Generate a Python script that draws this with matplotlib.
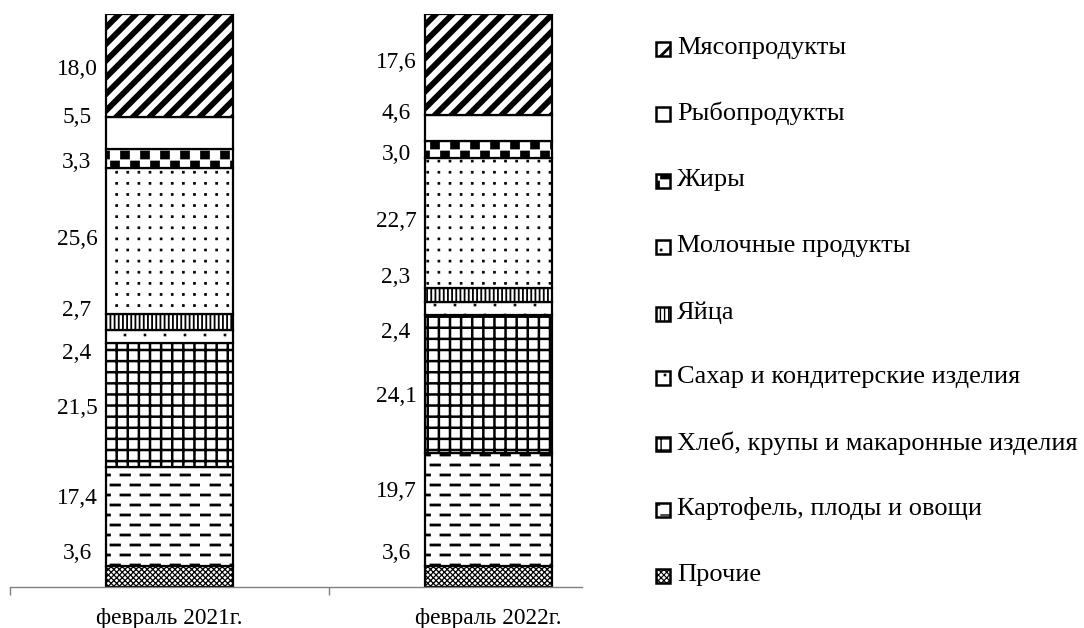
import numpy as np
import matplotlib
matplotlib.use("Agg")
import matplotlib.pyplot as plt
import matplotlib.hatch as mhatch
from matplotlib.path import Path
from matplotlib.patches import Rectangle
import warnings
warnings.filterwarnings("ignore")

# ---------------- data ----------------
periods = ["февраль 2021г.", "февраль 2022г."]
categories = ["Прочие", "Картофель, плоды и овощи", "Хлеб, крупы и макаронные изделия",
              "Сахар и кондитерские изделия", "Яйца", "Молочные продукты", "Жиры",
              "Рыбопродукты", "Мясопродукты"]
values_2021 = [3.6, 17.4, 21.5, 2.4, 2.7, 25.6, 3.3, 5.5, 18.0]
values_2022 = [3.6, 19.7, 24.1, 2.4, 2.3, 22.7, 3.0, 4.6, 17.6]
# label vertical positions (manual placement as in the source chart), data units
label_y_2021 = [5.9, 15.5, 31.2, 40.8, 48.2, 60.6, 74.0, 82.0, 90.4]
label_y_2022 = [5.9, 16.6, 33.2, 44.5, 54.1, 63.7, 75.4, 82.7, 91.6]

# ---------------- custom hatch patterns ----------------
MO, LI, CL = Path.MOVETO, Path.LINETO, Path.CLOSEPOLY


def _sq(x0, y0, x1, y1):
    return ([(x0, y0), (x1, y0), (x1, y1), (x0, y1), (x0, y0)], [MO, LI, LI, LI, CL])


def _ln(x0, y0, x1, y1):
    return ([(x0, y0), (x1, y1)], [MO, LI])


class _PolyHatch(mhatch.HatchPatternBase):
    char = "?"

    def __init__(self, hatch, density):
        self.polys = self.make() if (hatch and self.char in hatch) else []
        self.num_vertices = sum(len(v) for v, c in self.polys)

    def make(self):
        return []

    def set_vertices_and_codes(self, vertices, codes):
        i = 0
        for v, c in self.polys:
            n = len(v)
            vertices[i:i + n] = v
            codes[i:i + n] = c
            i += n


class CheckerHatch(_PolyHatch):
    char = "c"

    def make(self):
        out = []
        for r in range(10):
            off = 0.0 if r % 2 == 0 else 0.1
            for k in range(5):
                x0 = off + k * 0.2
                out.append(_sq(x0 + 0.005, r * 0.1 + 0.01, x0 + 0.095, r * 0.1 + 0.09))
        return out


class DenseDots(_PolyHatch):
    char = "d"

    def make(self):
        out = []
        n = 9
        s = 0.009
        for i in range(n):
            for j in range(n):
                cx, cy = (i + 0.5) / n, (j + 0.5) / n
                out.append(_sq(cx - s, cy - s, cx + s, cy + s))
        return out


class SparseDots(_PolyHatch):
    char = "s"

    def make(self):
        out = []
        s = 0.009
        for r in range(10):
            off = 0.05 if r % 2 == 0 else 0.15
            for k in range(5):
                cx, cy = off + k * 0.2, r * 0.1 + 0.05
                out.append(_sq(cx - s, cy - s, cx + s, cy + s))
        return out


class GridHatch(_PolyHatch):
    char = "g"

    def make(self):
        out = []
        n = 9
        for i in range(n):
            p = (i + 0.5) / n
            out.append(_ln(p, 0, p, 1))
            out.append(_ln(0, p, 1, p))
        return out


class DashHatch(_PolyHatch):
    char = "h"

    def make(self):
        out = []
        for r in range(10):
            y = r * 0.1 + 0.05
            off = 0.01 if r % 2 == 0 else 0.11
            for k in range(5):
                x0 = off + k * 0.2
                out.append(_ln(x0, y, x0 + 0.085, y))
        return out


mhatch._hatch_types.extend([CheckerHatch, DenseDots, SparseDots, GridHatch, DashHatch])

# pattern, hatch line width for each category
hatches = ["xxxxxx", "h", "g", "s", "||||", "d", "c", "", "//"]
hatch_lw = [0.9, 2.0, 1.8, 0.6, 1.3, 0.6, 0.5, 1.0, 4.2]
icon_lw = [0.8, 1.0, 1.0, 0.6, 1.0, 0.6, 0.5, 1.0, 2.0]

# ---------------- figure ----------------
plt.rcParams["font.family"] = ["Liberation Serif", "DejaVu Serif"]
plt.rcParams["hatch.color"] = "black"
FS = 16.8
FS_LEG = 19

W, H = 1084, 628
fig = plt.figure(figsize=(W / 100, H / 100), dpi=100)
ax = fig.add_axes([10 / W, (H - 587) / H, 638 / W, (587 - 14) / H])
ax.set_xlim(-0.5, 1.5)
ax.set_ylim(0, 100)

x = np.arange(len(periods))
bar_w = 0.40
data = [values_2021, values_2022]
bottoms = np.zeros(len(periods))
for ci, cat in enumerate(categories):
    vals = np.array([data[0][ci], data[1][ci]])
    with plt.rc_context({"hatch.linewidth": hatch_lw[ci]}):
        bars = ax.bar(x, vals, bar_w, bottom=bottoms, color="white",
                      edgecolor="black", linewidth=1.6, hatch=hatches[ci] or None,
                      label=cat, zorder=2)
    for p in bars:
        if hasattr(p, "set_hatch_linewidth"):
            p.set_hatch_linewidth(hatch_lw[ci])
    bottoms = bottoms + vals

# value labels
label_ys = [label_y_2021, label_y_2022]
for pi in range(len(periods)):
    for ci in range(len(categories)):
        v = data[pi][ci]
        ax.text(x[pi] - 0.29, label_ys[pi][ci], f"{v:.1f}".replace(".", ","),
                ha="center", va="center", fontsize=FS)

# axes styling
for s in ["left", "right", "top"]:
    ax.spines[s].set_visible(False)
ax.spines["bottom"].set_color("#808080")
ax.spines["bottom"].set_linewidth(1.0)
ax.spines["bottom"].set_bounds(-0.5, 1.292)
ax.set_yticks([])
ax.set_xticks(x)
ax.set_xticklabels(periods, fontsize=FS)
ax.tick_params(axis="x", which="major", length=0, pad=15)
ax.set_xticks([-0.5, 0.5], minor=True)
ax.tick_params(axis="x", which="minor", length=6, width=1.0, color="#808080", direction="out")

# legend (top to bottom: Мясопродукты ... Прочие)
leg_y = [48, 113, 180, 246, 313, 377, 443, 509, 575]
order = list(range(len(categories)))[::-1]
for row, ci in enumerate(order):
    yc = leg_y[row]
    with plt.rc_context({"hatch.linewidth": icon_lw[ci]}):
        r = Rectangle((656 / W, (H - yc - 7.5) / H), 14 / W, 14 / H,
                      transform=fig.transFigure, facecolor="white", edgecolor="black",
                      linewidth=1.8, hatch=hatches[ci] or None)
    if hasattr(r, "set_hatch_linewidth"):
        r.set_hatch_linewidth(icon_lw[ci])
    fig.add_artist(r)
    fig.text(677 / W, (H - yc) / H, categories[ci], ha="left", va="center", fontsize=FS_LEG)

fig.savefig("out.png", dpi=100)
